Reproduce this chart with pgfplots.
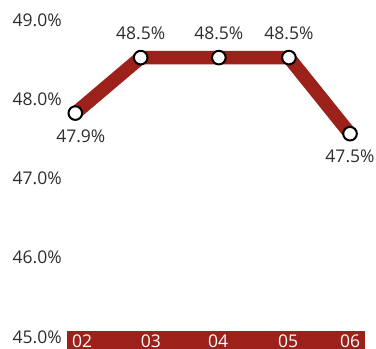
\documentclass[border=0pt]{standalone}
\usepackage{pgfplots}
\pgfplotsset{compat=1.18}
\usepackage{fontspec}
\setmainfont{Open Sans}
\definecolor{bandred}{RGB}{155,33,26}
\definecolor{txt}{RGB}{45,45,45}
\begin{document}
\begin{tikzpicture}
\useasboundingbox (0,0) rectangle (376bp,349bp);
\fill[bandred] (67bp,0bp) rectangle (365bp,18bp);
\begin{axis}[
  at={(67bp,0bp)}, anchor=south west,
  scale only axis, width=298bp, height=349bp,
  xmin=-0.121, xmax=4.218,
  ymin=44.823, ymax=49.227,
  clip=false,
  axis line style={draw=none},
  major tick length=0pt,
  tick style={draw=none},
  font=\fontsize{17.5bp}{20bp}\selectfont,
  ytick={45,46,47,48,49},
  yticklabels={45.0\%,46.0\%,47.0\%,48.0\%,49.0\%},
  yticklabel style={anchor=east, inner sep=0pt, xshift=-5bp, yshift=-2bp, text=txt},
  xtick={0.098,1.10,2.08,3.10,4.0},
  xticklabels={02,03,04,05,06},
  xticklabel style={anchor=center, inner sep=0pt, yshift=8bp, text=white},
]
\addplot[color=bandred, line width=13.5bp, mark=*, mark size=6.8bp,
  mark options={fill=white, draw=black, line width=2bp}]
  coordinates {(0,47.80) (0.952,48.50) (2.09,48.50) (3.11,48.50) (4,47.54)};
\addplot[draw=none, mark=none, nodes near coords, point meta=explicit symbolic,
  every node near coord/.append style={anchor=center, yshift=24bp, text=txt,
  font=\fontsize{17.5bp}{20bp}\selectfont}]
  coordinates {(0.952,48.50) [48.5\%] (2.09,48.50) [48.5\%] (3.11,48.50) [48.5\%]};
\addplot[draw=none, mark=none, nodes near coords, point meta=explicit symbolic,
  every node near coord/.append style={anchor=center, yshift=-23bp, text=txt,
  font=\fontsize{17.5bp}{20bp}\selectfont}]
  coordinates {(0.08,47.80) [47.9\%] (4,47.54) [47.5\%]};
\end{axis}
\end{tikzpicture}
\end{document}
